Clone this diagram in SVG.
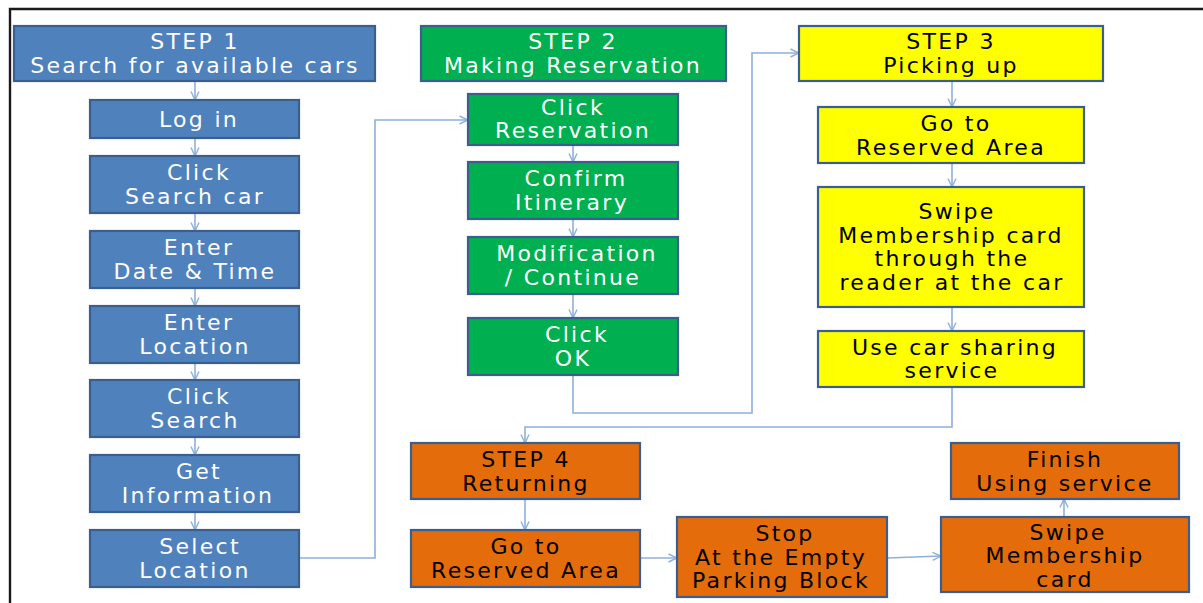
<svg xmlns="http://www.w3.org/2000/svg" width="1203" height="603" viewBox="0 0 1203 603">
  <style>
    .box { stroke: #3A5F8E; stroke-width: 2.2; }
    .blue { fill: #4F81BD; }
    .green { fill: #00B050; }
    .yellow { fill: #FFFF00; }
    .orange { fill: #E46C0A; }
    text { font-family: "DejaVu Sans", "Noto Sans", sans-serif; font-size: 22px; letter-spacing: 2.3px; text-anchor: middle; }
    .lt { fill: #FFFFFF; }
    .dk { fill: #000000; }
    .wire { fill: none; stroke: #8DB0DC; stroke-width: 1.6; }
  </style>
  <defs>
    <marker id="arr" viewBox="0 0 10 10" refX="9.5" refY="5" markerWidth="10" markerHeight="10" markerUnits="userSpaceOnUse" orient="auto">
      <path d="M1,1 L9.5,5 L1,9" fill="none" stroke="#8DB0DC" stroke-width="1.4"/>
    </marker>
  </defs>

  <rect width="1203" height="603" fill="#FFFFFF"/>
  <!-- slide frame -->
  <path d="M10,603 V9 H1203" fill="none" stroke="#1A1A1A" stroke-width="2.4"/>

  <!-- connectors -->
  <g id="connectors" class="wire">
    <path d="M195,82 V100" marker-end="url(#arr)"/>
    <path d="M195,138 V156" marker-end="url(#arr)"/>
    <path d="M195,213 V231" marker-end="url(#arr)"/>
    <path d="M195,288 V306" marker-end="url(#arr)"/>
    <path d="M195,363 V380" marker-end="url(#arr)"/>
    <path d="M195,437 V455" marker-end="url(#arr)"/>
    <path d="M195,512 V530" marker-end="url(#arr)"/>
    <path d="M299,558 H375 V120 H468" marker-end="url(#arr)"/>
    <path d="M573,145 V162" marker-end="url(#arr)"/>
    <path d="M573,219 V237" marker-end="url(#arr)"/>
    <path d="M573,294 V318" marker-end="url(#arr)"/>
    <path d="M573,375 V413 H752 V53 H799" marker-end="url(#arr)"/>
    <path d="M952,82 V107" marker-end="url(#arr)"/>
    <path d="M952,163 V187" marker-end="url(#arr)"/>
    <path d="M952,307 V331" marker-end="url(#arr)"/>
    <path d="M952,387 V427 H525 V443" marker-end="url(#arr)"/>
    <path d="M525,499 V530" marker-end="url(#arr)"/>
    <path d="M640,558 H677" marker-end="url(#arr)"/>
    <path d="M887,558 L941,556" marker-end="url(#arr)"/>
    <path d="M1064,517 V499" marker-end="url(#arr)"/>
  </g>

  <!-- step 1: search -->
  <g id="step1">
    <rect class="box blue" x="14" y="26" width="361" height="55"/>
    <text class="lt" x="195" y="49">STEP 1</text>
    <text class="lt" x="195" y="73">Search for available cars</text>
  </g>
  <g id="login">
    <rect class="box blue" x="90" y="100" width="209" height="38"/>
    <text class="lt" x="199" y="127">Log in</text>
  </g>
  <g id="click-search-car">
    <rect class="box blue" x="90" y="156" width="209" height="57"/>
    <text class="lt" x="199" y="180">Click</text>
    <text class="lt" x="195" y="204">Search car</text>
  </g>
  <g id="enter-date">
    <rect class="box blue" x="90" y="231" width="209" height="57"/>
    <text class="lt" x="199" y="255">Enter</text>
    <text class="lt" x="195" y="279">Date &amp; Time</text>
  </g>
  <g id="enter-location">
    <rect class="box blue" x="90" y="306" width="209" height="57"/>
    <text class="lt" x="199" y="330">Enter</text>
    <text class="lt" x="195" y="354">Location</text>
  </g>
  <g id="click-search">
    <rect class="box blue" x="90" y="380" width="209" height="57"/>
    <text class="lt" x="199" y="404">Click</text>
    <text class="lt" x="195" y="428">Search</text>
  </g>
  <g id="get-information">
    <rect class="box blue" x="90" y="455" width="209" height="57"/>
    <text class="lt" x="199" y="479">Get</text>
    <text class="lt" x="198" y="503">Information</text>
  </g>
  <g id="select-location">
    <rect class="box blue" x="90" y="530" width="209" height="57"/>
    <text class="lt" x="200" y="554">Select</text>
    <text class="lt" x="195" y="578">Location</text>
  </g>

  <!-- step 2: reservation -->
  <g id="step2">
    <rect class="box green" x="421" y="26" width="305" height="55"/>
    <text class="lt" x="573" y="49">STEP 2</text>
    <text class="lt" x="573" y="73">Making Reservation</text>
  </g>
  <g id="click-reservation">
    <rect class="box green" x="468" y="94" width="210" height="51"/>
    <text class="lt" x="573" y="115">Click</text>
    <text class="lt" x="573" y="138">Reservation</text>
  </g>
  <g id="confirm-itinerary">
    <rect class="box green" x="468" y="162" width="210" height="57"/>
    <text class="lt" x="576" y="186">Confirm</text>
    <text class="lt" x="572" y="210">Itinerary</text>
  </g>
  <g id="modification">
    <rect class="box green" x="468" y="237" width="210" height="57"/>
    <text class="lt" x="577" y="261">Modification</text>
    <text class="lt" x="573" y="285">/ Continue</text>
  </g>
  <g id="click-ok">
    <rect class="box green" x="468" y="318" width="210" height="57"/>
    <text class="lt" x="577" y="342">Click</text>
    <text class="lt" x="573" y="366">OK</text>
  </g>

  <!-- step 3: picking up -->
  <g id="step3">
    <rect class="box yellow" x="799" y="26" width="304" height="55"/>
    <text class="dk" x="951" y="49">STEP 3</text>
    <text class="dk" x="951" y="73">Picking up</text>
  </g>
  <g id="go-reserved-1">
    <rect class="box yellow" x="818" y="107" width="266" height="56"/>
    <text class="dk" x="956" y="131">Go to</text>
    <text class="dk" x="951" y="155">Reserved Area</text>
  </g>
  <g id="swipe-reader">
    <rect class="box yellow" x="818" y="187" width="266" height="120"/>
    <text class="dk" x="957" y="219">Swipe</text>
    <text class="dk" x="951" y="243">Membership card</text>
    <text class="dk" x="952" y="266">through the</text>
    <text class="dk" x="952" y="290">reader at the car</text>
  </g>
  <g id="use-service">
    <rect class="box yellow" x="818" y="331" width="266" height="56"/>
    <text class="dk" x="955" y="355">Use car sharing</text>
    <text class="dk" x="952" y="378">service</text>
  </g>

  <!-- step 4: returning -->
  <g id="step4">
    <rect class="box orange" x="411" y="443" width="229" height="56"/>
    <text class="dk" x="526" y="467">STEP 4</text>
    <text class="dk" x="526" y="491">Returning</text>
  </g>
  <g id="go-reserved-2">
    <rect class="box orange" x="411" y="530" width="229" height="57"/>
    <text class="dk" x="526" y="554">Go to</text>
    <text class="dk" x="526" y="578">Reserved Area</text>
  </g>
  <g id="stop-empty">
    <rect class="box orange" x="677" y="517" width="210" height="80"/>
    <text class="dk" x="785" y="541">Stop</text>
    <text class="dk" x="781" y="565">At the Empty</text>
    <text class="dk" x="781" y="588">Parking Block</text>
  </g>
  <g id="swipe-return">
    <rect class="box orange" x="941" y="517" width="248" height="75"/>
    <text class="dk" x="1068" y="540">Swipe</text>
    <text class="dk" x="1065" y="563">Membership</text>
    <text class="dk" x="1065" y="587">card</text>
  </g>
  <g id="finish">
    <rect class="box orange" x="951" y="443" width="228" height="56"/>
    <text class="dk" x="1065" y="467">Finish</text>
    <text class="dk" x="1065" y="491">Using service</text>
  </g>
</svg>
